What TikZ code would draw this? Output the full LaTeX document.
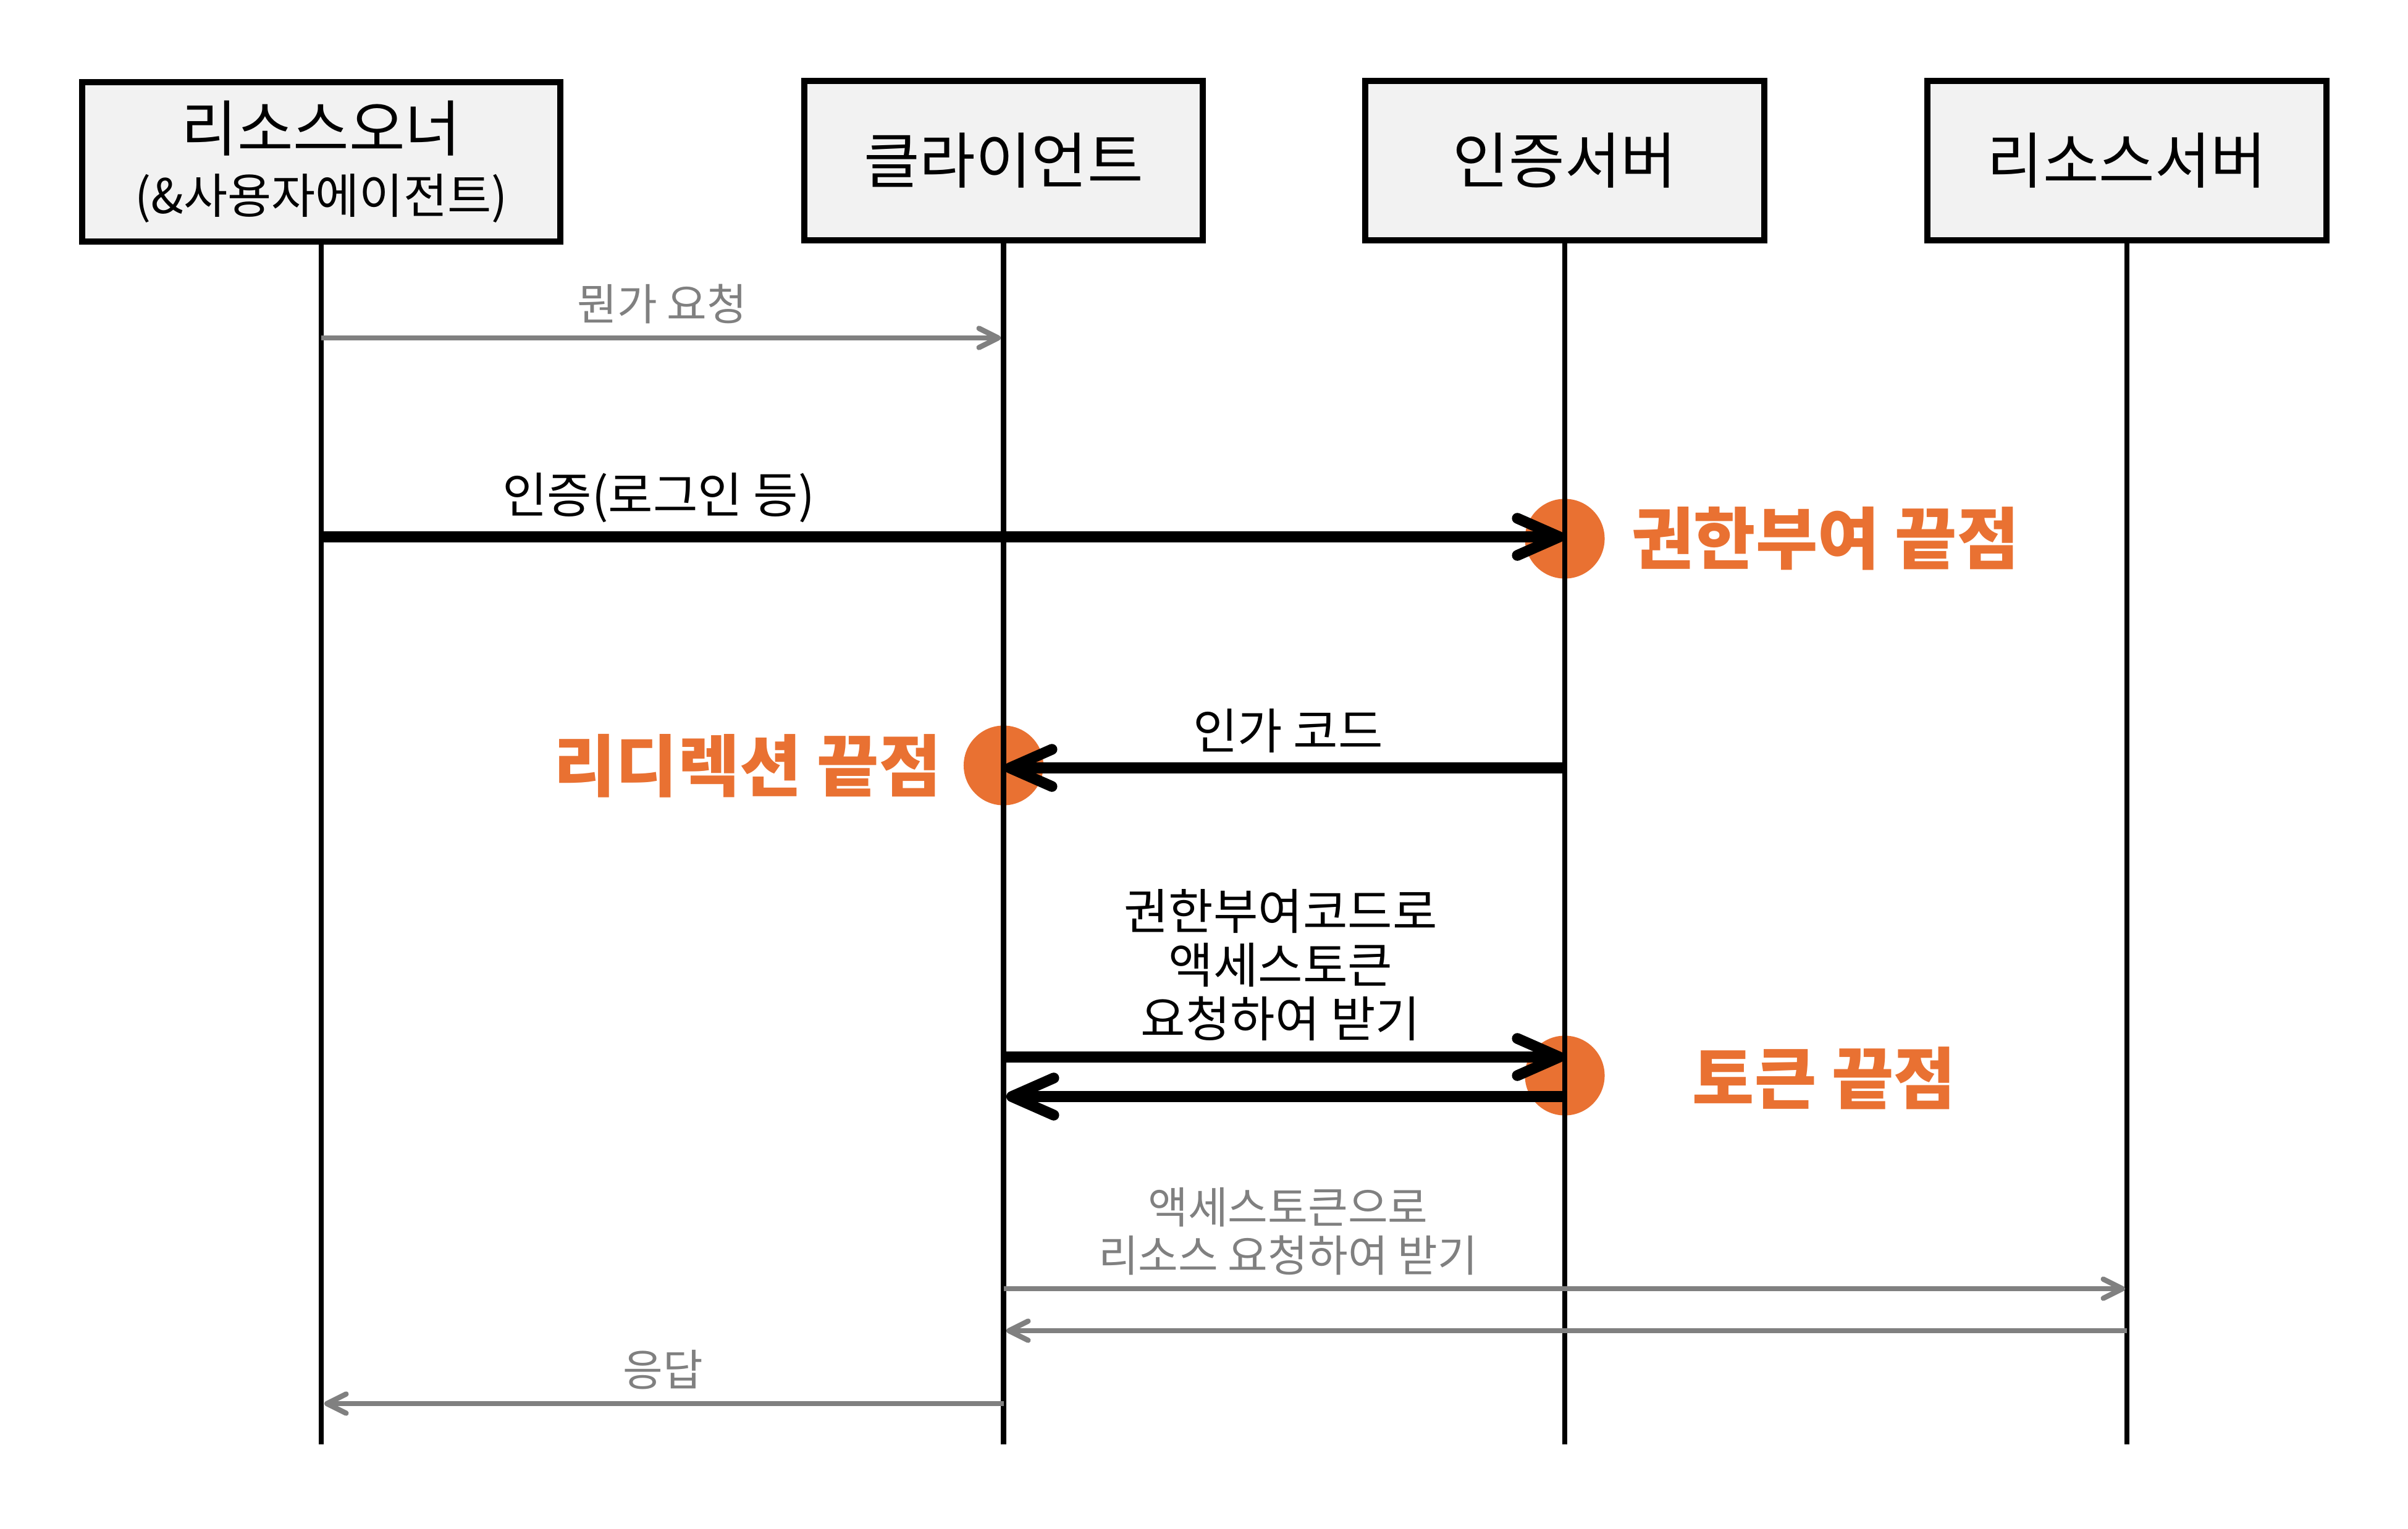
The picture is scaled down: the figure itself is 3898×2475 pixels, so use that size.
\documentclass[tikz,border=0pt]{standalone}
\usepackage{fontspec}
\setmainfont{Noto Sans CJK KR}
\usetikzlibrary{arrows.meta}
\definecolor{boxfill}{HTML}{F2F2F2}
\definecolor{msggray}{HTML}{808080}
\definecolor{endorange}{HTML}{E97132}
\begin{document}
\begin{tikzpicture}[x=0.01cm,y=-0.01cm,
 actor/.style={draw=black, line width=0.1cm, fill=boxfill, minimum height=2.58cm, inner sep=0pt, align=center, font=\fontsize{28}{32}\selectfont},
 life/.style={line width=0.087cm},
 thickmsg/.style={line width=0.175cm, -{Straight Barb[length=0.68cm,width=0.6cm,line cap=round,line join=round]}},
 graymsg/.style={draw=msggray, line width=0.085cm, -{Straight Barb[length=0.31cm,width=0.31cm,line cap=round,line join=round]}},
 endpt/.style={circle, fill=endorange, minimum size=1.29cm, inner sep=0pt},
 endlbl/.style={text=endorange, font=\fontsize{31}{36}\selectfont\bfseries, inner sep=0pt},
 blk/.style={font=\fontsize{22.4}{24.75}\selectfont, align=center, inner sep=0pt},
 gry/.style={text=msggray, font=\fontsize{20}{22.2}\selectfont, align=center, inner sep=0pt}
]
\useasboundingbox[fill=white] (0,0) rectangle (3898,2475);

% actors
\node[actor, minimum width=7.74cm] (owner) at (520,262)
  {리소스오너\\[-0.12cm]{\fontsize{22}{25}\selectfont (\&사용자에이전트)}};
\node[actor, minimum width=6.45cm] (client) at (1624.5,260) {클라이언트};
\node[actor, minimum width=6.45cm] (auth) at (2533,260) {인증서버};
\node[actor, minimum width=6.45cm] (res) at (3443,260) {리소스서버};

% endpoint markers
\node[endpt] (epauth) at (2533,872) {};
\node[endpt] (epredir) at (1624.5,1239) {};
\node[endpt] (eptoken) at (2533,1741) {};

% lifelines
\coordinate (ownerEnd) at (520,2338);
\coordinate (clientEnd) at (1624.5,2338);
\coordinate (authEnd) at (2533,2338);
\coordinate (resEnd) at (3443,2338);
\draw[life] (owner.south) -- (ownerEnd);
\draw[life] (client.south) -- (clientEnd);
\draw[life] (auth.south) -- (authEnd);
\draw[life] (res.south) -- (resEnd);

% message anchor points
\coordinate (o1) at (520,547);   \coordinate (c1) at (1620,547);
\coordinate (o2) at (520,869);   \coordinate (a2) at (2533,869);
\coordinate (a3) at (2533,1243); \coordinate (c3) at (1626,1243);
\coordinate (c4) at (1624.5,1711); \coordinate (a4) at (2533,1711);
\coordinate (a5) at (2533,1775); \coordinate (c5) at (1629,1775);
\coordinate (c6) at (1624.5,2086); \coordinate (r6) at (3440,2086);
\coordinate (r7) at (3443,2154); \coordinate (c7) at (1629,2154);
\coordinate (c8) at (1624.5,2272); \coordinate (o8) at (525,2272);

% messages
\draw[graymsg] (o1) -- (c1);
\draw[thickmsg] (o2) -- (a2);
\draw[thickmsg] (a3) -- (c3);
\draw[thickmsg] (c4) -- (a4);
\draw[thickmsg] (a5) -- (c5);
\draw[graymsg] (c6) -- (r6);
\draw[graymsg] (r7) -- (c7);
\draw[graymsg] (c8) -- (o8);

% message labels
\node[gry] (t1) at (1072,492) {뭔가 요청};
\node[blk] (t2) at (1066,806) {인증(로그인 등)};
\node[blk] (t3) at (2085,1183) {인가 코드};
\node[blk] (t4) at (2073,1562) {권한부여코드로\\액세스토큰\\요청하여 받기};
\node[gry] (t5) at (2085,1993) {액세스토큰으로\\리소스 요청하여 받기};
\node[gry] (t6) at (1073,2217) {응답};

% endpoint labels
\node[endlbl] (lauth) at (2955,872) {권한부여 끝점};
\node[endlbl] (lredir) at (1210,1240) {리디렉션 끝점};
\node[endlbl] (ltoken) at (2953,1745) {토큰 끝점};
\end{tikzpicture}
\end{document}
